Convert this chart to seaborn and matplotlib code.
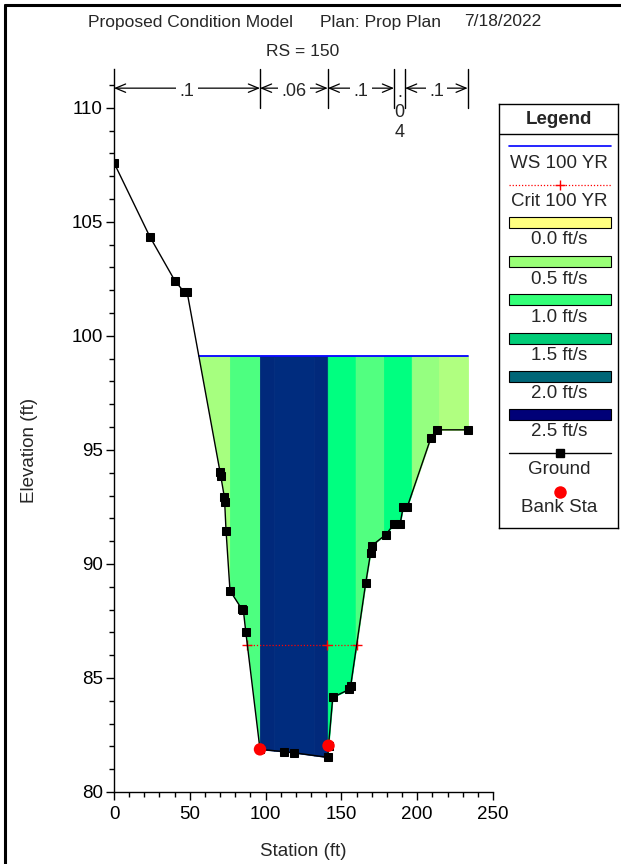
import numpy as np
import matplotlib
matplotlib.use("Agg")
import matplotlib.pyplot as plt
import seaborn as sns
import pandas as pd
from matplotlib.lines import Line2D
from matplotlib.patches import Rectangle

sns.set_theme(style="ticks")
plt.rcParams["font.family"] = ["Liberation Sans", "DejaVu Sans"]

# ---------------- data ----------------
ground_sta = [0, 23.7, 40.2, 46.2, 48.2, 69.9, 70.4, 72.8, 73.0, 73.9, 76.5, 84.2,
              85.3, 86.9, 96.3, 112.1, 118.7, 141.0, 141.5, 144.3, 155.2, 156.1,
              166.0, 169.3, 170.0, 179.4, 184.7, 188.7, 190.8, 193.5, 209.1, 212.9, 233.3]
ground_elev = [107.59, 104.34, 102.41, 101.93, 101.93, 94.05, 93.86, 92.93, 92.71, 91.46,
               88.83, 88.03, 87.98, 87.03, 81.87, 81.77, 81.72, 81.52, 82.03, 84.15,
               84.50, 84.65, 89.15, 90.50, 90.80, 91.29, 91.75, 91.75, 92.51, 92.51,
               95.54, 95.88, 95.88]
bank_sta = [96.3, 141.5]
bank_elev = [81.87, 82.03]
ws_sta = [56.2, 233.3]
ws_elev = 99.1
crit_sta = [87.96, 140.7, 160.1]
crit_elev = 86.45
band_edges = [56.2, 76.5, 96.3, 105.7, 132.1, 141.0, 159.4, 178.1, 196.4, 214.6, 233.3]
band_colors = ["#A6FF7F", "#4DFF80", "#01297B", "#002C7E", "#01297B",
               "#00FF80", "#52FF80", "#00FF80", "#95FF80", "#B0FF80"]
n_edges = [0, 96.3, 141.0, 184.7, 192.0, 233.3]
n_values = [".1", ".06", ".1", ".04", ".1"]
vel_labels = ["0.0 ft/s", "0.5 ft/s", "1.0 ft/s", "1.5 ft/s", "2.0 ft/s", "2.5 ft/s"]
vel_colors = ["#FFFF80", "#99FF77", "#33FF77", "#00CC77", "#006677", "#000077"]
title_parts = ["Proposed Condition Model", "Plan: Prop Plan", "7/18/2022"]
subtitle = "RS = 150"

FS = 13.5

# ---------------- figure ----------------
W, H = 621, 864
fig = plt.figure(figsize=(W / 100, H / 100), dpi=100)
fig.patch.set_facecolor("white")
def fx(px): return px / W
def fy(py): return 1 - py / H

ax = fig.add_axes([fx(114), fy(792), fx(493) - fx(114), fy(69) - fy(792)])
ax.set_facecolor("white")
ax.set_xlim(0, 250)
ax.set_ylim(80, 111.7)

# velocity bands
gs = np.array(ground_sta, float)
ge = np.array(ground_elev, float)
for a, b, c in zip(band_edges[:-1], band_edges[1:], band_colors):
    inside = [s for s in ground_sta if a < s < b]
    xs = np.array([a] + inside + [b], float)
    gy = np.minimum(np.interp(xs, gs, ge), ws_elev)
    ax.fill_between(xs, gy, ws_elev, facecolor=c, edgecolor=c, lw=0.6, zorder=1)

# water surface
sns.lineplot(x=ws_sta, y=[ws_elev] * len(ws_sta), ax=ax, color="#0000FF", lw=1.3, zorder=3)
# critical depth
sns.lineplot(x=crit_sta, y=[crit_elev] * len(crit_sta), ax=ax, color="red", lw=0.9,
             linestyle=(0, (1, 1.5)), marker="+", markersize=7, markeredgewidth=1.0,
             markeredgecolor="red", zorder=3)
# ground
gdf = pd.DataFrame({"sta": ground_sta, "elev": ground_elev})
sns.lineplot(data=gdf, x="sta", y="elev", ax=ax, sort=False, color="black", lw=1.0,
             marker="s", markersize=6, markeredgecolor="black", markerfacecolor="black",
             zorder=4)
# bank stations
sns.scatterplot(x=bank_sta, y=bank_elev, ax=ax, color="red", s=80, edgecolor="none",
                zorder=5)

# axes styling
sns.despine(ax=ax)
for sp in ["left", "bottom"]:
    ax.spines[sp].set_linewidth(1.0)
    ax.spines[sp].set_color("black")
ax.set_xticks(np.arange(0, 251, 50))
ax.set_xticks(np.arange(0, 251, 10), minor=True)
ax.set_yticks(np.arange(80, 111, 5))
ax.set_yticks(np.arange(80, 112, 1), minor=True)
ax.tick_params(which="major", length=6, width=1, direction="out", colors="black",
               labelsize=FS, pad=2)
ax.tick_params(which="minor", length=3.5, width=1, direction="out", colors="black")
ax.tick_params(axis="x", pad=4)
ax.set_xlabel("")
ax.set_ylabel("")

fig.text(fx(303), fy(851), "Station (ft)", ha="center", va="center", fontsize=FS)
fig.text(fx(30), fy(450), "Elevation (ft)", ha="center", va="center", fontsize=FS,
         rotation=90)

# titles
for t, px in zip(title_parts, [190, 381, 503]):
    fig.text(fx(px), fy(22), t, ha="center", va="center", fontsize=12.5)
fig.text(fx(303), fy(52), subtitle, ha="center", va="center", fontsize=12.5)

# n-value annotations
arrow_y = 110.86
for e in n_edges[1:]:
    ax.plot([e, e], [110.0, 111.7], color="black", lw=1.0, clip_on=False, zorder=6)
for a, b, lab in zip(n_edges[:-1], n_edges[1:], n_values):
    mid = (a + b) / 2
    if lab == ".04":
        for ch, yy in zip([".", "0", "4"], [110.47, 109.59, 108.74]):
            ax.text(mid, yy, ch, ha="center", va="baseline", fontsize=13, zorder=7,
                    clip_on=False)
        continue
    ax.annotate("", xy=(a, arrow_y), xytext=(b, arrow_y),
                arrowprops=dict(arrowstyle="<->,head_length=0.6,head_width=0.25",
                                color="black", lw=0.9, shrinkA=0, shrinkB=0,
                                mutation_scale=12),
                annotation_clip=False, zorder=6)
    ax.text(mid, 110.50, lab, ha="center", va="baseline", fontsize=13, zorder=7,
            clip_on=False, bbox=dict(fc="white", ec="none", pad=2.5))

# ---------------- legend ----------------
lg = fig.add_axes([fx(499), fy(528), fx(618) - fx(499), fy(104) - fy(528)])
lg.set_xlim(499, 618)
lg.set_ylim(528, 104)
lg.set_xticks([])
lg.set_yticks([])
for sp in lg.spines.values():
    sp.set_visible(True)
    sp.set_color("black")
    sp.set_linewidth(1.0)
lg.set_facecolor("white")
lg.plot([499, 618], [134, 134], color="black", lw=1.0)
lg.text(559, 120, "Legend", ha="center", va="center", fontsize=FS, fontweight="bold")
lg.plot([509, 611], [146, 146], color="#0000FF", lw=1.2)
lg.text(559, 163, "WS 100 YR", ha="center", va="center", fontsize=FS)
lg.plot([509, 611], [185, 185], color="red", lw=0.9, linestyle=(0, (1, 1.5)))
lg.plot([560], [185], color="red", marker="+", markersize=7, markeredgewidth=1.0)
lg.text(559, 201, "Crit 100 YR", ha="center", va="center", fontsize=FS)
box_tops = [217, 256, 294, 333, 371, 409]
for top, lab, c in zip(box_tops, vel_labels, vel_colors):
    lg.add_patch(Rectangle((509, top), 102, 11, facecolor=c, edgecolor="black", lw=0.8))
    lg.text(559, top + 23, lab, ha="center", va="center", fontsize=FS)
lg.plot([509, 611], [453, 453], color="black", lw=1.0)
lg.plot([560], [453], color="black", marker="s", markersize=6)
lg.text(559, 470, "Ground", ha="center", va="center", fontsize=FS)
lg.plot([560], [492], color="red", marker="o", markersize=9, markeredgewidth=0)
lg.text(559, 508, "Bank Sta", ha="center", va="center", fontsize=FS)

# outer frame (top and left)
fig.add_artist(Line2D([fx(5), fx(5)], [0, fy(5)], transform=fig.transFigure,
                      color="black", lw=2.2))
fig.add_artist(Line2D([fx(5), 1], [fy(5), fy(5)], transform=fig.transFigure,
                      color="black", lw=2.2))

fig.savefig("out.png", dpi=100, facecolor="white")
